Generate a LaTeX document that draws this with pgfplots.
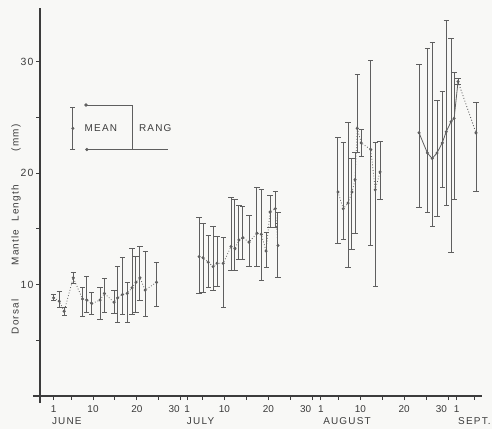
\documentclass[border=0pt]{standalone}
\usepackage{pgfplots}
\pgfplotsset{compat=1.18}
\usepackage{pgfplotstable}
\usepackage{fontspec}
\setmainfont{Liberation Sans}
\newfontfamily\spaced{Liberation Sans}[LetterSpace=12]
\newfontfamily\wide{Liberation Sans}[LetterSpace=12]

\definecolor{ink}{RGB}{60,60,60}
\definecolor{barc}{RGB}{95,95,95}
\definecolor{paper}{RGB}{248,248,246}

% day numbers run on from June 1 = 1 (July 1 = 31, Aug 1 = 62, Sept 1 = 93)
\pgfplotstableread{
d    mean lo   hi
1.0  8.8  8.6  9.1
2.3  8.5  7.9  9.4
3.4  7.6  7.2  7.9
5.5  10.6 10.1 11.1
7.6  8.7  7.1  9.7
8.6  8.6  7.5  10.7
9.7  8.3  7.3  9.3
11.6 8.6  6.9  9.7
12.6 9.2  7.5  10.5
14.8 8.4  7.4  9.5
15.6 8.8  6.6  11.6
16.7 9.1  7.3  12.4
17.8 9.2  6.6  10.2
18.9 9.7  7.3  13.2
19.8 10.2 7.5  12.5
20.7 10.6 8.6  13.4
21.9 9.5  7.1  13.0
24.5 10.2 8.0  12.0
}\june

\pgfplotstableread{
d    mean lo   hi
34.2 12.5 9.2  16.0
35.1 12.4 9.3  15.5
36.3 12.0 9.7  14.4
37.4 11.6 9.5  15.2
38.3 11.9 9.8  14.3
39.7 11.9 7.9  14.2
41.5 13.4 11.3 17.8
42.4 13.2 11.3 17.6
43.3 14.0 12.2 17.1
44.2 14.2 12.2 17.0
45.6 13.8 11.6 16.2
47.4 14.6 11.6 18.7
48.4 14.5 10.4 18.5
49.5 13.0 11.5 14.7
50.4 16.5 15.1 18.0
51.6 16.8 15.1 18.3
52.2 13.5 10.6 16.5
}\july

\pgfplotstableread{
d    mean lo   hi
65.9 18.3 13.7 23.2
67.1 16.8 14.0 22.7
68.2 17.3 11.5 24.5
69.1 18.3 13.1 21.3
69.8 19.4 14.6 21.8
70.3 24.0 21.8 28.8
71.2 22.7 21.5 23.9
73.4 22.1 13.5 30.1
74.4 18.5 9.8  22.7
75.5 20.1 17.6 22.8
}\august

\pgfplotstableread{
d    mean lo   hi
84.4 23.6 16.9 29.7
86.3 21.8 16.5 31.2
87.4 21.3 15.2 31.7
88.5 21.8 16.1 26.5
89.7 22.7 18.7 27.3
90.6 23.7 17.1 33.7
91.7 24.6 12.9 32.1
92.4 24.9 17.6 29.0
93.3 28.2 27.9 28.5
97.4 23.6 18.3 26.3
}\sept

\pgfplotsset{
  rangebars/.style={
    barc, line width=0.8bp, mark=*, mark size=1.1bp,
    mark options={solid, fill=barc, draw=barc},
    error bars/.cd, y dir=both, y explicit,
    error bar style={solid, line width=1bp, barc},
    error mark options={rotate=90, solid, mark size=2.6bp, line width=1bp, barc},
  },
}

\begin{document}
\begin{tikzpicture}
\fill[paper] (-40bp,-33bp) rectangle (452bp,396bp);
\begin{axis}[
    scale only axis,
    width=441.7bp, height=388bp,
    xmin=-2.1, xmax=98.7,
    ymin=0, ymax=34.8,
    axis lines=left,
    axis line style={ink, line width=1.1bp, -, shorten <=-7bp},
    tick style={ink, line width=0.9bp},
    tick align=outside,
    major tick length=4bp, minor tick length=3.5bp,
    xtick={1,10,20,30,31.5,40,50,60,62,71,81,91,93},
    xticklabels={1,10,20,\makebox[0pt][r]{30\hspace{1bp}},1,10,20,\makebox[0pt][r]{30\hspace{1bp}},1,10,20,\makebox[0pt][r]{30\hspace{1bp}},1},
    minor xtick={5,15,25,35,45,55,66,76,86,97},
    ytick={10,20,30},
    yticklabels={10,20,30},
    minor ytick={5,15,25},
    xticklabel style={font=\fontsize{10}{12}\selectfont, text=ink, yshift=-2bp},
    yticklabel style={font=\wide\fontsize{10.5}{12}\selectfont, text=ink, xshift=1bp},
    ylabel={\spaced Dorsal\hspace{34bp}Mantle\hspace{8bp}Length\hspace{34bp}(mm)},
    ylabel style={at={(axis description cs:-0.054,0.43)}, anchor=center,
      font=\fontsize{10}{12}\selectfont, text=ink},
    clip=false,
]
% June
\addplot[dotted, rangebars] table[x=d, y=mean,
  y error plus expr=\thisrow{hi}-\thisrow{mean},
  y error minus expr=\thisrow{mean}-\thisrow{lo}] {\june};
% July
\addplot[dotted, rangebars] table[x=d, y=mean,
  y error plus expr=\thisrow{hi}-\thisrow{mean},
  y error minus expr=\thisrow{mean}-\thisrow{lo}] {\july};
% August
\addplot[dotted, rangebars] table[x=d, y=mean,
  y error plus expr=\thisrow{hi}-\thisrow{mean},
  y error minus expr=\thisrow{mean}-\thisrow{lo}] {\august};
% late August and September
\addplot[only marks, rangebars] table[x=d, y=mean,
  y error plus expr=\thisrow{hi}-\thisrow{mean},
  y error minus expr=\thisrow{mean}-\thisrow{lo}] {\sept};
\addplot[barc, line width=0.8bp, restrict x to domain=80:94] table[x=d, y=mean] {\sept};
\addplot[barc, line width=0.9bp, dotted, restrict x to domain=93:98] table[x=d, y=mean] {\sept};

% key
\addplot[rangebars] coordinates {(5.4,24.0) += (0,1.9) -= (0,1.9)};
\addplot[barc, line width=0.9bp, mark=*, mark size=1.2bp, mark indices={1}]
  coordinates {(8.4,26.1) (19.1,26.1) (19.1,22.1)};
\addplot[barc, line width=0.9bp, mark=*, mark size=1.1bp, mark indices={1}]
  coordinates {(8.6,22.1) (27.2,22.1)};
\node[text=ink, font=\spaced\fontsize{10}{12}\selectfont] at (axis cs:11.8,24.0) {MEAN};
\node[text=ink, font=\spaced\fontsize{10}{12}\selectfont] at (axis cs:24.2,24.0) {RANG};

% months
\node[anchor=north west, inner sep=0pt, text=ink, font=\spaced\fontsize{10}{12}\selectfont]
  at (axis cs:0.6,0) [yshift=-21bp] {JUNE};
\node[anchor=north west, inner sep=0pt, text=ink, font=\spaced\fontsize{10}{12}\selectfont]
  at (axis cs:31.4,0) [yshift=-21bp] {JULY};
\node[anchor=north west, inner sep=0pt, text=ink, font=\spaced\fontsize{10}{12}\selectfont]
  at (axis cs:62.5,0) [yshift=-21bp] {AUGUST};
\node[anchor=north west, inner sep=0pt, text=ink, font=\spaced\fontsize{10}{12}\selectfont]
  at (axis cs:93.3,0) [yshift=-21bp] {SEPT.};
\end{axis}
\pgfresetboundingbox
\useasboundingbox (-40bp,-33bp) rectangle (452bp,396bp);
\end{tikzpicture}
\end{document}
